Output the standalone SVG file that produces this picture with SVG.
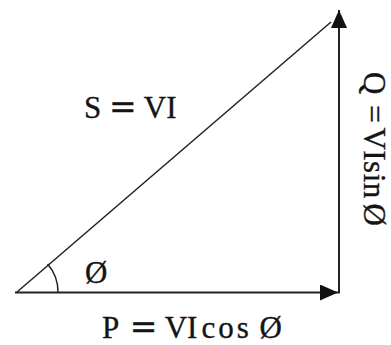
<svg xmlns="http://www.w3.org/2000/svg" width="391" height="345" viewBox="0 0 391 345">
  <style>
    .lbl { font-family: "Liberation Serif", "Times New Roman", serif; font-size: 31px; fill: #141414; stroke: #141414; stroke-width: 0.35; }
    .eq { font-family: "DejaVu Serif", serif; font-size: 33px; }
    .side { stroke: #222; stroke-width: 2; fill: none; }
    .hyp { stroke: #222; stroke-width: 1.5; fill: none; }
  </style>
  <defs>
    <marker id="arr" viewBox="0 0 18 16" refX="18" refY="8" markerWidth="18" markerHeight="16" orient="auto" markerUnits="userSpaceOnUse">
      <path d="M0,0 L18,8 L0,16 Z" fill="#111"/>
    </marker>
  </defs>
  <rect width="391" height="345" fill="#fff"/>
  <g id="connectors">
    <line class="side" x1="15" y1="292.5" x2="338" y2="292.5" marker-end="url(#arr)"/>
    <line class="side" x1="339" y1="293.5" x2="339" y2="10" marker-end="url(#arr)"/>
    <line class="hyp" x1="17" y1="292" x2="331" y2="22"/>
    <path class="hyp" d="M58,292.5 A43,43 0 0 0 47.6,264"/>
  </g>
  <g id="label-s">
    <text class="lbl" x="84" y="118">S <tspan class="eq">=</tspan> VI</text>
  </g>
  <g id="label-angle">
    <text class="lbl" x="85" y="283">Ø</text>
  </g>
  <g id="label-p">
    <text class="lbl" x="102" y="337.5">P <tspan class="eq" dx="4">=</tspan> VI<tspan dx="4" letter-spacing="3">cos</tspan> Ø</text>
  </g>
  <g id="label-q">
    <text class="lbl" transform="translate(364,0) rotate(90)" x="72" y="0" word-spacing="-3">Q <tspan dx="6">=</tspan> <tspan letter-spacing="0.5">VIsin</tspan> Ø</text>
  </g>
</svg>
